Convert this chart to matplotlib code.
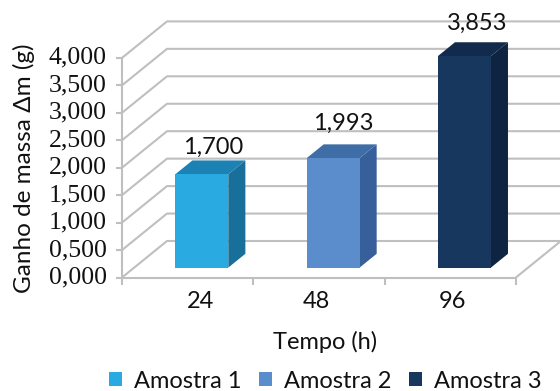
import matplotlib
matplotlib.use("Agg")
import matplotlib.pyplot as plt
from matplotlib.patches import Polygon, Patch

categories = ["24", "48", "96"]
values = [1.700, 1.993, 3.853]
value_labels = ["1,700", "1,993", "3,853"]
series_names = ["Amostra 1", "Amostra 2", "Amostra 3"]
y_ticks = [0, 0.5, 1, 1.5, 2, 2.5, 3, 3.5, 4]
y_tick_labels = ["0,000", "0,500", "1,000", "1,500", "2,000", "2,500", "3,000", "3,500", "4,000"]

front_colors = ["#29ABE2", "#5B8CCB", "#17375E"]
top_colors = ["#1C81B3", "#3F6DA6", "#122B4C"]
side_colors = ["#18709A", "#37609A", "#0F2440"]
grid_color = "#BFBFBF"

# pixels per data unit, and where the origin sits
px_x, px_y = 131.3, 54.9
x0_px, y0_px = 122, 277.5
depth_x, depth_y = 45 / px_x, 36.5 / px_y
bar_width = 53 / px_x
bar_front, bar_back = 0.27, 0.65
bar_shift = 0.015

plt.rcParams["font.family"] = ["Lato", "DejaVu Sans"]
fig = plt.figure(figsize=(5.6, 3.91), dpi=100)
ax = fig.add_axes([0, 0, 1, 1])
ax.set_xlim(-x0_px / px_x, (560 - x0_px) / px_x)
ax.set_ylim(-(391 - y0_px) / px_y, y0_px / px_y)
ax.axis("off")


def proj(x, y, d):
    # oblique projection: depth d goes right and up
    return x + d * depth_x, y + d * depth_y


line_style = dict(color=grid_color, lw=1.5, solid_capstyle="butt", zorder=1)
n_cat = len(categories)

for tick, label in zip(y_ticks, y_tick_labels):
    xs, ys = zip(proj(0, tick, 0), proj(0, tick, 1), proj(n_cat, tick, 1))
    ax.plot(xs, ys, **line_style)
    ax.plot([-6 / px_x, 0], [tick, tick], **line_style)
    ax.text(-15 / px_x, tick, label, family="Liberation Serif", fontsize=18.5,
            ha="right", va="center", color="#111111")

# walls and floor edges
ax.plot([0, 0], [0, y_ticks[-1]], **line_style)
ax.plot([0, n_cat], [0, 0], **line_style)
xs, ys = zip(proj(n_cat, 0, 0), proj(n_cat, 0, 1))
ax.plot(xs, ys, **line_style)
for i in range(n_cat + 1):
    ax.plot([i, i], [0, -7 / px_y], **line_style)

label_offsets = [(11.5, 27), (10, 35), (12.5, 33)]
tick_offsets = [12.5, -3, 2]

for i, val in enumerate(values):
    left = i + 0.5 - bar_width / 2 + bar_shift
    right = left + bar_width
    fl_b, fl_t = proj(left, 0, bar_front), proj(left, val, bar_front)
    fr_b, fr_t = proj(right, 0, bar_front), proj(right, val, bar_front)
    bl_t = proj(left, val, bar_back)
    br_b, br_t = proj(right, 0, bar_back), proj(right, val, bar_back)
    ax.add_patch(Polygon([fr_b, fr_t, br_t, br_b], fc=side_colors[i], ec="none", zorder=3))
    ax.add_patch(Polygon([fl_t, bl_t, br_t, fr_t], fc=top_colors[i], ec="none", zorder=3))
    ax.add_patch(Polygon([fl_b, fl_t, fr_t, fr_b], fc=front_colors[i], ec="none", zorder=4))

    cx = proj(i + 0.5 + bar_shift, val, bar_front)
    ax.annotate(value_labels[i], cx, xytext=(label_offsets[i][0] * 0.72, label_offsets[i][1] * 0.72),
                textcoords="offset points", ha="center", va="center",
                fontsize=17, color="#111111", zorder=5)
    ax.text(i + 0.5 + tick_offsets[i] / px_x, -24.5 / px_y, categories[i],
            ha="center", va="center", fontsize=17, color="#111111")

ax.text((325 - x0_px) / px_x, -(342 - y0_px) / px_y, "Tempo (h)",
        ha="center", va="center", fontsize=17, color="#111111")
ax.text((24 - x0_px) / px_x, -(168 - y0_px) / px_y, "Ganho de massa Δm (g)",
        rotation=90, ha="center", va="center", fontsize=17.5, color="#111111")

handles = [Patch(fc=c, ec="none") for c in front_colors]
leg = ax.legend(handles, series_names, ncol=3, loc="center",
                bbox_to_anchor=(325 / 560, 1 - 381 / 391), frameon=False,
                fontsize=17, handlelength=0.55, handleheight=0.55,
                handletextpad=0.5, columnspacing=0.75, borderpad=0, borderaxespad=0)
for t in leg.get_texts():
    t.set_color("#111111")

fig.savefig("out.png", dpi=100)
